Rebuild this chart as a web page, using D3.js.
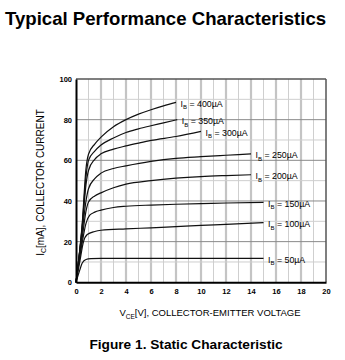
<!DOCTYPE html>
<html><head><meta charset="utf-8">
<script src="https://cdn.jsdelivr.net/npm/d3@7"></script>
<style>
html,body{margin:0;padding:0;background:#fff;}
svg{display:block;font-family:"Liberation Sans",Arial,Helvetica,sans-serif;}
</style></head>
<body><svg id="chart" width="345" height="360"></svg>
<script>
// ---- data ----
const xTicks = [0,2,4,6,8,10,12,14,16,18,20];
const yTicks = [0,20,40,60,80,100];
const seriesNames = ["400","350","300","250","200","150","100","50"];
const ib400 = [[0,0],[0.5,29],[0.8,56],[1,63],[1.5,68],[2,71.4],[3,76.5],[4,80],[5,82.7],[6,84.9],[7,86.8],[8,88.5]];
const ib350 = [[0,0],[0.5,28],[0.8,52],[1,60],[1.5,64.5],[2,67.5],[3,71],[4,73.7],[5,75.5],[6,77],[7,78.4],[8.1,80]];
const ib300 = [[0,0],[0.5,27],[0.8,48],[1,55],[1.5,60.5],[2,63.2],[3,65.5],[4,67.1],[5,68.5],[6,69.8],[8,71.7],[10,74.2]];
const ib250 = [[0,0],[0.5,25],[0.8,40],[1,46],[1.5,51],[2,53.7],[3,56],[4,57.3],[6,59.5],[8,61],[10,61.8],[12,62.5],[14,63.2]];
const ib200 = [[0,0],[0.5,22],[0.8,35],[1,39.5],[1.5,42.5],[2,44],[3,46.5],[4,48.3],[6,50],[8,51.2],[10,52],[12,52.5],[14,52.9]];
const ib150 = [[0,0],[0.4,16],[0.8,29],[1.1,33],[1.5,34.5],[2,35.5],[3,36.8],[4,37.4],[6,38],[8,38.4],[10,38.7],[12,39],[15,39.3]];
const ib100 = [[0,0],[0.3,10],[0.6,20],[0.9,23.5],[1.5,25],[2,25.6],[4,26.3],[6,26.8],[8,27.4],[10,28],[12,28.5],[15,29.4]];
const ib50  = [[0,0],[0.3,6],[0.5,9.5],[0.8,11.2],[1.2,11.6],[2,11.8],[4,11.8],[8,11.8],[12,11.8],[15,11.8]];
const seriesData = [ib400, ib350, ib300, ib250, ib200, ib150, ib100, ib50];

const svg = d3.select("#chart");
const x = d3.scaleLinear().domain([0,20]).range([76,326]);
const y = d3.scaleLinear().domain([0,100]).range([282.3,79]);

// grid
const g = svg.append("g");
g.selectAll("line.vg").data(d3.range(1,20)).join("line")
  .attr("x1",d=>x(d)).attr("x2",d=>x(d)).attr("y1",y(0)).attr("y2",y(100))
  .attr("stroke",d=>d%2===0?"#c4c4c4":"#cfcfcf")
  .attr("stroke-width",d=>d%2===0?2.2:1);
g.selectAll("line.hg").data(d3.range(10,100,10)).join("line")
  .attr("x1",x(0)).attr("x2",x(20)).attr("y1",d=>y(d)).attr("y2",d=>y(d))
  .attr("stroke",d=>d%20===0?"#8a8a8a":"#cfcfcf")
  .attr("stroke-width",1);
// frame
svg.append("line").attr("x1",x(0)).attr("x2",x(20)).attr("y1",y(100)).attr("y2",y(100)).attr("stroke","#555").attr("stroke-width",1.5);
svg.append("line").attr("x1",x(20)).attr("x2",x(20)).attr("y1",y(100)).attr("y2",y(0)).attr("stroke","#555").attr("stroke-width",1.5);

// curves
const line = d3.line().x(d=>x(d[0])).y(d=>y(d[1])).curve(d3.curveMonotoneX);
svg.append("g").selectAll("path").data(seriesData).join("path")
  .attr("d",line).attr("fill","none").attr("stroke","#111").attr("stroke-width",1.2);

// axes
const xAxis = d3.axisBottom(x).tickValues(xTicks).tickSize(0).tickPadding(6).tickFormat(d3.format("d"));
const yAxis = d3.axisLeft(y).tickValues(yTicks).tickSize(0).tickPadding(4).tickFormat(d3.format("d"));
const gx = svg.append("g").attr("transform",`translate(0,${y(0)})`).call(xAxis);
const gy = svg.append("g").attr("transform",`translate(${x(0)},0)`).call(yAxis);
[gx,gy].forEach(a=>{
  a.select(".domain").attr("stroke","#000").attr("stroke-width",2);
  a.selectAll("text").attr("font-size","7.5px").attr("font-weight","bold").attr("fill","#000")
   .attr("font-family","'Liberation Sans',Arial,sans-serif");
});

// curve labels
const lab = svg.append("g").attr("font-size","8.8px").attr("fill","#000");
seriesData.forEach((s,i)=>{
  const last = s[s.length-1];
  const t = lab.append("text").attr("x",x(last[0])+4.5).attr("y",y(last[1])+4.5);
  t.append("tspan").text("I");
  t.append("tspan").attr("font-size","6px").attr("dy",2.5).text("B");
  t.append("tspan").attr("dy",-2.5).text(" = "+seriesNames[i]+"\u00B5A");
});

// axis titles
const xt = svg.append("text").attr("x",210).attr("y",316).attr("text-anchor","middle").attr("font-size","9.5px");
xt.append("tspan").text("V");
xt.append("tspan").attr("font-size","6.5px").attr("dy",2.5).text("CE");
xt.append("tspan").attr("dy",-2.5).text("[V], COLLECTOR-EMITTER VOLTAGE");

const yt = svg.append("text").attr("transform","translate(43.5,182.5) rotate(-90)").attr("text-anchor","middle").attr("font-size","10px");
yt.append("tspan").text("I");
yt.append("tspan").attr("font-size","7px").attr("dy",2.5).text("C");
yt.append("tspan").attr("dy",-2.5).text("[mA], COLLECTOR CURRENT");

// title & caption
svg.append("text").attr("x",5).attr("y",25).attr("font-size","18.6px").attr("font-weight","bold").text("Typical Performance Characteristics");
svg.append("text").attr("x",186).attr("y",349).attr("text-anchor","middle").attr("font-size","13.7px").attr("font-weight","bold").text("Figure 1. Static Characteristic");
</script>
</body></html>
